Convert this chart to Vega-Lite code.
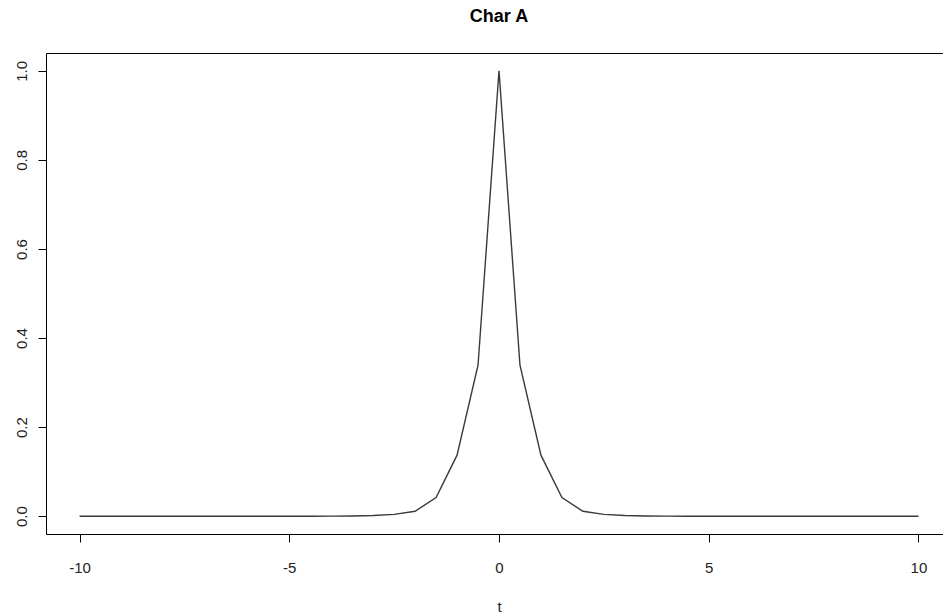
{
  "$schema": "https://vega.github.io/schema/vega-lite/v6.json",
  "width": 906,
  "height": 481,
  "autosize": {"type": "none"},
  "padding": {"left": 46, "top": 53, "right": 0, "bottom": 80},
  "background": "white",
  "title": {
    "text": "Char A",
    "font": "Liberation Sans",
    "fontSize": 18,
    "fontWeight": "bold",
    "color": "#000",
    "anchor": "middle",
    "baseline": "alphabetic",
    "offset": 13
  },
  "config": {
    "view": {"stroke": "#000", "strokeWidth": 1},
    "axis": {
      "domain": false,
      "grid": false,
      "ticks": true,
      "tickColor": "#000",
      "tickSize": 8,
      "labelFont": "Liberation Sans",
      "labelFontSize": 15,
      "labelColor": "#222",
      "titleFont": "Liberation Sans",
      "titleFontSize": 15,
      "titleFontWeight": "normal",
      "titleColor": "#222"
    }
  },
  "data": {
    "values": [
      {"t": -10, "y": 0}, {"t": -9.5, "y": 0}, {"t": -9, "y": 0}, {"t": -8.5, "y": 0},
      {"t": -8, "y": 0}, {"t": -7.5, "y": 0}, {"t": -7, "y": 0}, {"t": -6.5, "y": 0},
      {"t": -6, "y": 0}, {"t": -5.5, "y": 0}, {"t": -5, "y": 0}, {"t": -4.5, "y": 0},
      {"t": -4, "y": 0.0001}, {"t": -3.5, "y": 0.0004}, {"t": -3, "y": 0.0015}, {"t": -2.5, "y": 0.004},
      {"t": -2, "y": 0.011}, {"t": -1.5, "y": 0.042}, {"t": -1, "y": 0.137}, {"t": -0.5, "y": 0.339},
      {"t": 0, "y": 1},
      {"t": 0.5, "y": 0.339}, {"t": 1, "y": 0.137}, {"t": 1.5, "y": 0.042}, {"t": 2, "y": 0.011},
      {"t": 2.5, "y": 0.004}, {"t": 3, "y": 0.0015}, {"t": 3.5, "y": 0.0004}, {"t": 4, "y": 0.0001},
      {"t": 4.5, "y": 0}, {"t": 5, "y": 0}, {"t": 5.5, "y": 0}, {"t": 6, "y": 0},
      {"t": 6.5, "y": 0}, {"t": 7, "y": 0}, {"t": 7.5, "y": 0}, {"t": 8, "y": 0},
      {"t": 8.5, "y": 0}, {"t": 9, "y": 0}, {"t": 9.5, "y": 0}, {"t": 10, "y": 0}
    ]
  },
  "mark": {"type": "line", "color": "#3a3a3a", "strokeWidth": 1.4},
  "encoding": {
    "x": {
      "field": "t",
      "type": "quantitative",
      "scale": {"domain": [-10.8, 10.8], "nice": false, "zero": false},
      "axis": {
        "values": [-10, -5, 0, 5, 10],
        "labelExpr": "'' + datum.value",
        "labelPadding": 30,
        "labelBaseline": "alphabetic",
        "title": "t",
        "titleBaseline": "alphabetic",
        "titleY": 77,
        "titleX": 453
      }
    },
    "y": {
      "field": "y",
      "type": "quantitative",
      "scale": {"domain": [-0.04, 1.04], "nice": false, "zero": false},
      "axis": {
        "values": [0, 0.2, 0.4, 0.6, 0.8, 1],
        "format": ".1f",
        "labelAngle": -90,
        "labelAlign": "center",
        "labelBaseline": "alphabetic",
        "labelPadding": 12,
        "title": null
      }
    }
  }
}
